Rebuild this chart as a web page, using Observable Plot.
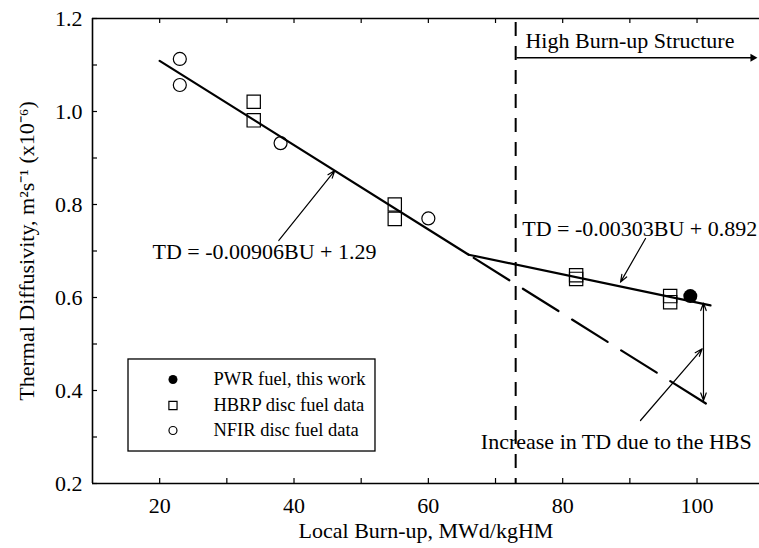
<!DOCTYPE html>
<html><head><meta charset="utf-8">
<script src="https://cdn.jsdelivr.net/npm/d3@7"></script>
<script src="https://cdn.jsdelivr.net/npm/@observablehq/plot@0.6"></script>
<style>body{margin:0;background:#fff}#chart{width:759px;height:548px}</style>
</head><body><div id="chart"></div>
<script>
// ---- data ----
const nfirBurnup = [23, 23, 38, 60];
const nfirTD = [1.113, 1.057, 0.932, 0.770];
const hbrpBurnup = [34, 34, 55, 55, 82, 82, 96, 96];
const hbrpTD = [1.021, 0.981, 0.800, 0.769, 0.648, 0.640, 0.603, 0.590];
const pwrBurnup = [99];
const pwrTD = [0.603];
const fitLow = {slope: -0.00906, intercept: 1.29};   // TD = -0.00906BU + 1.29
const fitHigh = {slope: -0.00303, intercept: 0.892}; // TD = -0.00303BU + 0.892
const fitStartBU = 20, fitEndBU = 102;
const hbsThresholdBU = 73;
const legendLabels = ["PWR fuel, this work", "HBRP disc fuel data", "NFIR disc fuel data"];
const annotationLabels = ["TD = -0.00906BU + 1.29", "TD = -0.00303BU + 0.892", "Increase in TD due to the HBS", "High Burn-up Structure"];
const xTickValues = [20, 40, 60, 80, 100];
const xMinorTickValues = [30, 50, 70, 90];
const yTickValues = [0.2, 0.4, 0.6, 0.8, 1.0, 1.2];
const yMinorTickValues = [0.3, 0.5, 0.7, 0.9, 1.1];
const xTitle = "Local Burn-up, MWd/kgHM";
const yTitle = "Thermal Diffusivity, m\u00b2s\u207b\u00b9 (x10\u207b\u2076)";

// ---- derived ----
const f = (fit, bu) => fit.slope * bu + fit.intercept;
const breakBU = (fitLow.intercept - fitHigh.intercept) / (fitHigh.slope - fitLow.slope);
const lowLine = [fitStartBU, breakBU].map(x => ({x, y: f(fitLow, x)}));
const highLine = [breakBU, fitEndBU].map(x => ({x, y: f(fitHigh, x)}));
const extLine = [breakBU, fitEndBU].map(x => ({x, y: f(fitLow, x)}));
const nfir = nfirBurnup.map((x, i) => ({x, y: nfirTD[i]}));
const hbrp = hbrpBurnup.map((x, i) => ({x, y: hbrpTD[i]}));
const pwr = pwrBurnup.map((x, i) => ({x, y: pwrTD[i]}));

const W = 759, H = 548, ML = 92, MR = 0, MT = 18, MB = 65;
const plotW = W - ML - MR, plotH = H - MT - MB;
const font = "Liberation Serif, Times New Roman, serif";
const tick = 5;
const xMin = 10, xMax = 109.3, yMin = 0.2, yMax = 1.2;

// annotation anchors (data coordinates)
const arrowEndBU = 100.96;
const gapTop = f(fitHigh, arrowEndBU) + 0.002, gapBottom = 0.3785, gapMid = 0.48;
const hbsArrow = {x1: 73.2, x2: 108.3, y: 1.1155};

// legend layout (data coordinates)
const lg = {x1: 15.36, x2: 52.13, y1: 0.4667, y2: 0.2688, symX: 21.98, textX: 28.0, rows: [0.4237, 0.3677, 0.314]};

const chart = Plot.plot({
  width: W, height: H,
  marginLeft: ML, marginRight: MR, marginTop: MT, marginBottom: MB,
  style: {fontFamily: font, fontSize: "22px", color: "black", background: "white"},
  x: {domain: [xMin, xMax], axis: null},
  y: {domain: [yMin, yMax], axis: null},
  marks: [
    // frame lines
    Plot.ruleY([yMin, yMax], {strokeWidth: 1.6}),
    Plot.ruleX([xMin], {strokeWidth: 1.6}),
    // inward ticks
    Plot.tickX([...xTickValues, ...xMinorTickValues], {x: d => d, insetTop: plotH - tick, strokeWidth: 1.2}),
    Plot.tickX([...xTickValues, ...xMinorTickValues], {x: d => d, insetBottom: plotH - tick, strokeWidth: 1.2}),
    Plot.tickY([...yTickValues, ...yMinorTickValues], {y: d => d, insetRight: plotW - tick, strokeWidth: 1.2}),
    // tick labels
    Plot.text(yTickValues, {x: xMin, y: d => d, text: d => d3.format(".1f")(d), textAnchor: "end", dx: -10, fontSize: 22}),
    Plot.text(xTickValues, {x: d => d, y: yMin, text: d => String(d), lineAnchor: "middle", dy: 22, fontSize: 22}),
    // titles
    Plot.text([xTitle], {frameAnchor: "bottom", lineAnchor: "middle", dy: 47, fontSize: 22}),
    Plot.text([yTitle], {frameAnchor: "left", textAnchor: "middle", lineAnchor: "middle", rotate: -90, dx: -66, fontSize: 22}),
    // HBS threshold
    Plot.ruleX([hbsThresholdBU], {strokeWidth: 2, strokeDasharray: "14,10", strokeDashoffset: -4}),
    // fits
    Plot.line(lowLine, {x: "x", y: "y", strokeWidth: 2.2}),
    Plot.line(highLine, {x: "x", y: "y", strokeWidth: 2.2}),
    Plot.line(extLine, {x: "x", y: "y", strokeWidth: 2.2, strokeDasharray: "42,16", strokeDashoffset: 52}),
    // data
    Plot.dot(nfir, {x: "x", y: "y", r: 6.5, stroke: "black", strokeWidth: 1.2, fill: "none"}),
    Plot.dot(hbrp, {x: "x", y: "y", symbol: "square", r: 7.5, stroke: "black", strokeWidth: 1.2, fill: "none"}),
    Plot.dot(pwr, {x: "x", y: "y", r: 7, fill: "black"}),
    // annotations
    Plot.text([annotationLabels[0]], {x: 18.93, y: 0.697, textAnchor: "start", fontSize: 22}),
    Plot.arrow([{x1: 37.74, y1: 0.7226, x2: 46.07, y2: 0.873}], {x1: "x1", y1: "y1", x2: "x2", y2: "y2", headLength: 10, headAngle: 40, strokeWidth: 1.2}),
    Plot.text([annotationLabels[1]], {x: 73.97, y: 0.748, textAnchor: "start", fontSize: 22}),
    Plot.arrow([{x1: 92.33, y1: 0.727, x2: 88.61, y2: 0.633}], {x1: "x1", y1: "y1", x2: "x2", y2: "y2", headLength: 10, headAngle: 40, strokeWidth: 1.2}),
    Plot.text([annotationLabels[2]], {x: 87.98, y: 0.289, textAnchor: "middle", fontSize: 22}),
    Plot.arrow([{x1: 91.58, y1: 0.3355, x2: 100.77, y2: 0.4897}], {x1: "x1", y1: "y1", x2: "x2", y2: "y2", headLength: 10, headAngle: 40, strokeWidth: 1.2}),
    Plot.arrow([{x1: arrowEndBU, y1: gapMid, x2: arrowEndBU, y2: gapTop}, {x1: arrowEndBU, y1: gapMid, x2: arrowEndBU, y2: gapBottom}], {x1: "x1", y1: "y1", x2: "x2", y2: "y2", headLength: 10, headAngle: 40, strokeWidth: 1.2}),
    Plot.text([annotationLabels[3]], {x: 74.46, y: 1.1527, textAnchor: "start", fontSize: 22}),
    Plot.ruleY([hbsArrow], {y: "y", x1: "x1", x2: "x2", strokeWidth: 1.5}),
    Plot.dot([hbsArrow], {x: "x2", y: "y", symbol: "triangle", rotate: 90, r: 3, fill: "black"}),
    // legend
    Plot.rect([lg], {x1: "x1", x2: "x2", y1: "y1", y2: "y2", fill: "white", stroke: "black", strokeWidth: 1.3}),
    Plot.dot([{x: lg.symX, y: lg.rows[0]}], {x: "x", y: "y", r: 4.5, fill: "black"}),
    Plot.dot([{x: lg.symX, y: lg.rows[1]}], {x: "x", y: "y", symbol: "square", r: 4.6, stroke: "black", strokeWidth: 1.2, fill: "none"}),
    Plot.dot([{x: lg.symX, y: lg.rows[2]}], {x: "x", y: "y", r: 4, stroke: "black", strokeWidth: 1.2, fill: "none"}),
    Plot.text(legendLabels.map((t, i) => ({t, y: lg.rows[i]})), {x: lg.textX, y: "y", text: "t", textAnchor: "start", fontSize: 18.5})
  ]
});
document.getElementById("chart").append(chart);
</script>
</body></html>
